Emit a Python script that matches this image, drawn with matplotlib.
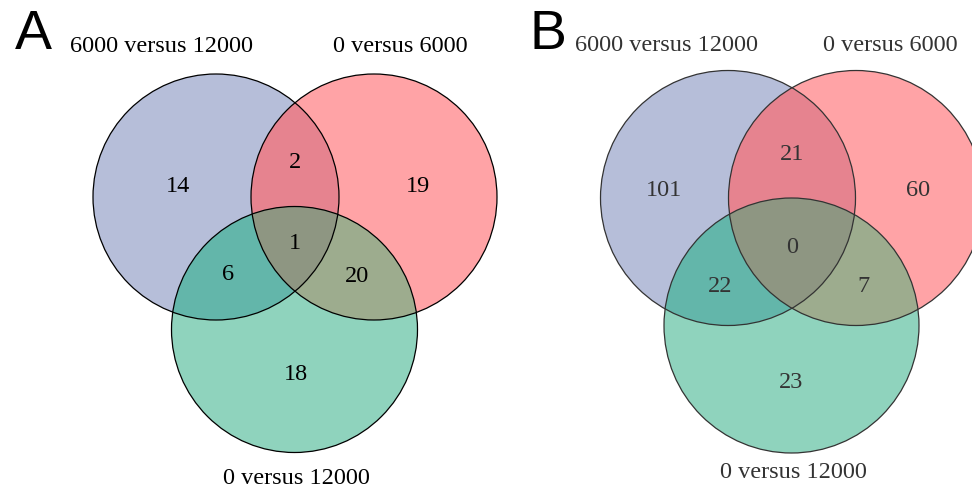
import matplotlib
matplotlib.use("Agg")
import numpy as np
import matplotlib.pyplot as plt
from matplotlib.patches import Circle, Polygon

# ---- data ----
set_names = ["6000 versus 12000", "0 versus 6000", "0 versus 12000"]
# region order: only1, only2, only3, 1&2, 1&3, 2&3, 1&2&3
region_keys = ["100", "010", "001", "110", "101", "011", "111"]
counts_A = [14, 19, 18, 2, 6, 20, 1]
counts_B = [101, 60, 23, 21, 22, 7, 0]
panel_letters = ["A", "B"]

# ---- styling ----
region_colors = {
    "100": "#b6bed9", "010": "#ffa3a6", "001": "#8fd3bd",
    "110": "#e6838f", "101": "#63b6aa", "011": "#9dac8e", "111": "#8e9682",
}
serif = ["Liberation Serif", "DejaVu Serif"]

W, H = 972, 491
fig = plt.figure(figsize=(W / 100, H / 100), dpi=100)
ax = fig.add_axes([0, 0, 1, 1])
ax.set_xlim(0, W)
ax.set_ylim(H, 0)
ax.set_aspect("equal")
ax.axis("off")

panels = [
    dict(centers=[(216, 197), (374, 197), (294.5, 329.5)], r=123,
         letter_xy=(33, 35), name_xy=[(161, 46), (400, 46), (296, 478)],
         text_color="#000000", edge="#000000", counts=counts_A,
         label_xy=[(178, 186), (418, 186), (296, 375), (295, 163),
                   (228, 275), (357, 276), (295, 243)]),
    dict(centers=[(728, 198), (856, 198), (791.5, 325.5)], r=127.5,
         letter_xy=(548, 35), name_xy=[(666, 45), (890, 45), (793, 472)],
         text_color="#333333", edge="#333333", counts=counts_B,
         label_xy=[(664, 191), (918, 191), (791, 382), (792, 155),
                   (720, 286), (863, 286), (792, 247)]),
]

def inside(pts, c, r):
    return np.hypot(pts[:, 0] - c[0], pts[:, 1] - c[1]) <= r + 1e-6

for p in panels:
    cs, r = p["centers"], p["r"]
    singles = ["100", "010", "001"]
    for c, k in zip(cs, singles):
        ax.add_patch(Circle(c, r, facecolor=region_colors[k], edgecolor="none", zorder=2))
    for (i, j, k) in [(0, 1, "110"), (0, 2, "101"), (1, 2, "011")]:
        clip = Circle(cs[i], r, transform=ax.transData)
        patch = Circle(cs[j], r, facecolor=region_colors[k], edgecolor="none", zorder=2.1)
        ax.add_patch(patch)
        patch.set_clip_path(clip)
    # triple intersection polygon
    t = np.linspace(0, 2 * np.pi, 2000)
    pts = []
    for i, c in enumerate(cs):
        circ = np.column_stack([c[0] + r * np.cos(t), c[1] + r * np.sin(t)])
        mask = np.ones(len(t), bool)
        for j, c2 in enumerate(cs):
            if j != i:
                mask &= inside(circ, c2, r)
        pts.append(circ[mask])
    pts = np.vstack(pts)
    ctr = pts.mean(axis=0)
    order = np.argsort(np.arctan2(pts[:, 1] - ctr[1], pts[:, 0] - ctr[0]))
    ax.add_patch(Polygon(pts[order], closed=True, facecolor=region_colors["111"],
                         edgecolor="none", zorder=2.2))
    for c in cs:
        ax.add_patch(Circle(c, r, facecolor="none", edgecolor=p["edge"], lw=0.9, zorder=3))
    for (x, y), v in zip(p["label_xy"], p["counts"]):
        ax.text(x, y, str(v), ha="center", va="center", fontsize=17.5,
                family=serif, color=p["text_color"], zorder=4)
    for (nx, ny), nm in zip(p["name_xy"], set_names):
        ax.text(nx, ny, nm, ha="center", va="center", fontsize=17.5,
                family=serif, color=p["text_color"], zorder=4)

for p, L in zip(panels, panel_letters):
    ax.text(p["letter_xy"][0], p["letter_xy"][1], L, ha="center", va="center",
            fontsize=40, family=["Liberation Sans", "DejaVu Sans"], color="black")

fig.savefig("out.png", dpi=100)
